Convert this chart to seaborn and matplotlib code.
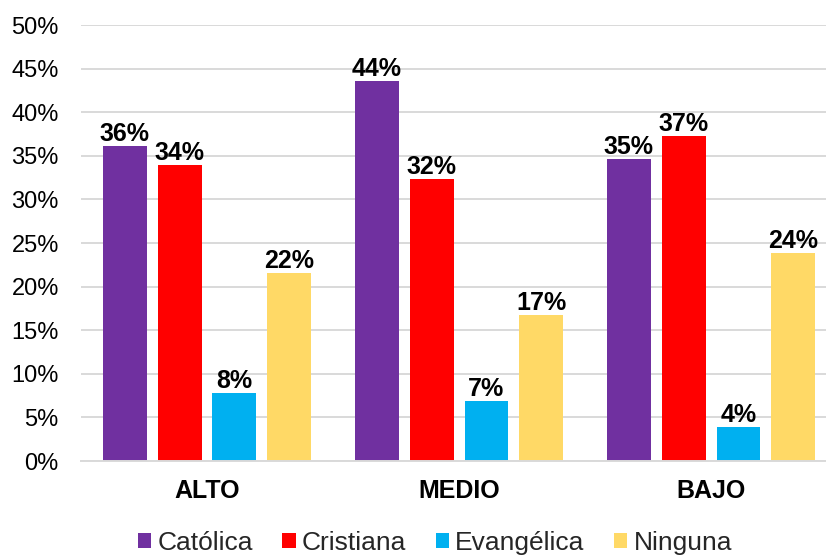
import matplotlib
matplotlib.use("Agg")
import matplotlib.pyplot as plt
import seaborn as sns
import pandas as pd
from matplotlib.ticker import FuncFormatter

groups = ["ALTO", "MEDIO", "BAJO"]
religions = ["Católica", "Cristiana", "Evangélica", "Ninguna"]
catolica = [36.1, 43.6, 34.6]
cristiana = [33.9, 32.3, 37.3]
evangelica = [7.8, 6.9, 3.9]
ninguna = [21.6, 16.8, 23.9]
colors = ["#7030A0", "#FF0000", "#00B0F0", "#FFD966"]
yticks = [0, 5, 10, 15, 20, 25, 30, 35, 40, 45, 50]

series = [catolica, cristiana, evangelica, ninguna]
rows = []
for rel, vals in zip(religions, series):
    for g, v in zip(groups, vals):
        rows.append({"Nivel": g, "Religión": rel, "Valor": v})
df = pd.DataFrame(rows)

sns.set_theme(style="white")
plt.rcParams["font.family"] = ["Liberation Sans", "DejaVu Sans"]

fig = plt.figure(figsize=(8.26, 5.57), dpi=100)
ax = fig.add_axes([81 / 826, (557 - 461) / 557, 1 - 81 / 826, (461 - 25) / 557])

sns.barplot(data=df, x="Nivel", y="Valor", hue="Religión", order=groups,
            hue_order=religions, palette=colors, width=0.87, gap=0.2,
            linewidth=0, saturation=1, ax=ax, legend=True)

for cont in ax.containers:
    ax.bar_label(cont, labels=[f"{round(b.get_height()):d}%" for b in cont],
                 padding=0, fontsize=18, fontweight="bold", color="black")

ax.set_ylim(0, 50)
ax.set_xlim(-0.5, 2.456)
ax.set_yticks(yticks)
ax.yaxis.set_major_formatter(FuncFormatter(lambda v, p: f"{int(v)}%"))
ax.tick_params(axis="y", length=0, pad=16, labelsize=17, labelcolor="black")
ax.tick_params(axis="x", length=0, pad=13, labelsize=18, labelcolor="black")
for lab in ax.get_xticklabels():
    lab.set_fontweight("bold")
ax.set_xlabel("")
ax.set_ylabel("")
ax.grid(axis="y", color="#d9d9d9", linewidth=1.4)
ax.set_axisbelow(True)
for s in ["top", "right", "left"]:
    ax.spines[s].set_visible(False)
ax.spines["bottom"].set_color("#d9d9d9")
ax.spines["bottom"].set_linewidth(1.4)

handles, labels = ax.get_legend_handles_labels()
ax.legend_.remove()
fig.legend(handles, labels, loc="center", bbox_to_anchor=(435 / 826, 1 - 543 / 557),
           ncol=4, frameon=False, fontsize=19, handlelength=0.5, handleheight=0.5,
           handletextpad=0.25, columnspacing=1.1, borderpad=0)

fig.savefig("out.png", dpi=100)
